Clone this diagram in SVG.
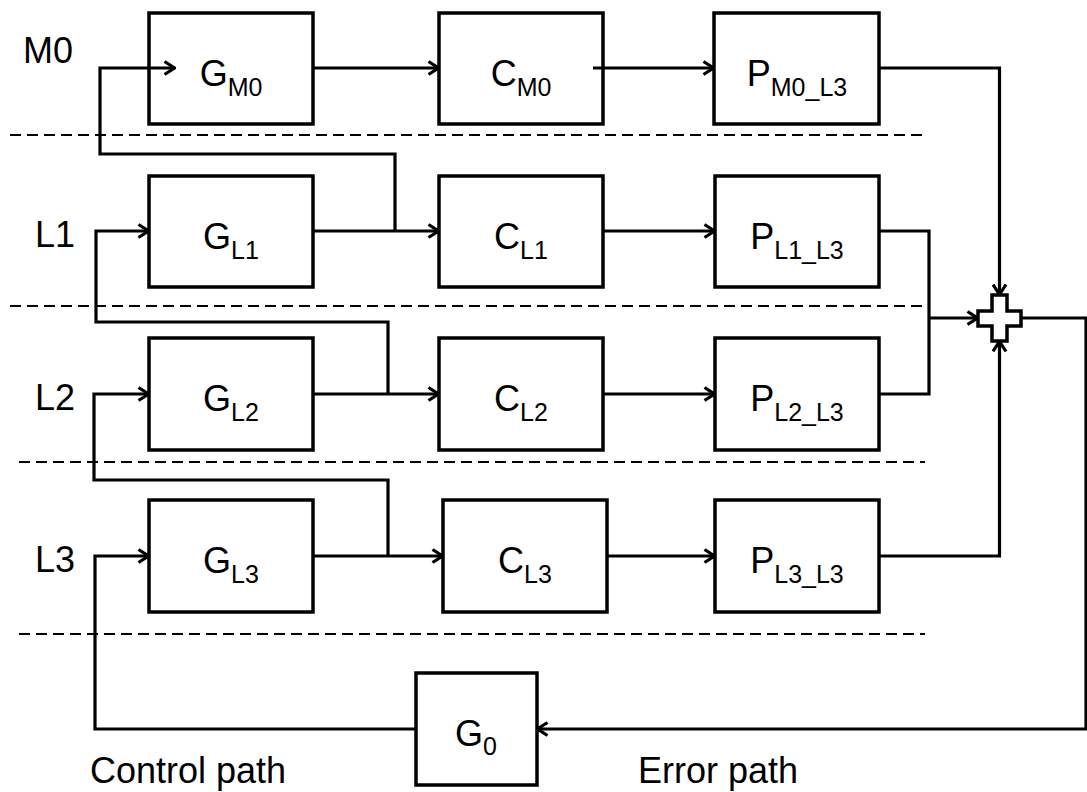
<svg xmlns="http://www.w3.org/2000/svg" width="1087" height="792" viewBox="0 0 1087 792">
<defs>
<marker id="arr" viewBox="0 0 13 16" refX="12" refY="8" markerWidth="13" markerHeight="16" markerUnits="userSpaceOnUse" orient="auto">
<path d="M1.5,1.5 L11.5,8 L1.5,14.5" fill="none" stroke="#000" stroke-width="3.2" stroke-linejoin="miter"/>
</marker>
</defs>
<style>
.box{fill:#fff;stroke:#000;stroke-width:3.5}
.ln{fill:none;stroke:#000;stroke-width:3.2}
.ar{fill:none;stroke:#000;stroke-width:3.2;marker-end:url(#arr)}
.dash{fill:none;stroke:#000;stroke-width:2;stroke-dasharray:11 6}
.lbl{font-family:"Liberation Sans",Arial,sans-serif;font-size:36px;fill:#000}
.nl{font-family:"Liberation Sans",Arial,sans-serif;font-size:36px;fill:#000;text-anchor:middle}
.sub{font-size:25px}
</style>
<rect width="1087" height="792" fill="#fff"/>
<g id="separators">
<line class="dash" x1="10" y1="135" x2="925" y2="135"/>
<line class="dash" x1="10" y1="306" x2="925" y2="306"/>
<line class="dash" x1="19" y1="462" x2="925" y2="462"/>
<line class="dash" x1="19" y1="634" x2="925" y2="634"/>
</g>
<g id="labels">
<text class="lbl" x="23" y="63">M0</text>
<text class="lbl" x="35" y="247">L1</text>
<text class="lbl" x="35" y="410">L2</text>
<text class="lbl" x="35" y="572">L3</text>
<text class="lbl" x="90" y="783">Control path</text>
<text class="lbl" x="638" y="783">Error path</text>
</g>
<g id="G_M0"><rect class="box" x="149" y="13" width="164" height="111"/><text class="nl" x="231" y="86">G<tspan class="sub" dy="10">M0</tspan></text></g>
<g id="C_M0"><rect class="box" x="439" y="13" width="164" height="111"/><text class="nl" x="521" y="86">C<tspan class="sub" dy="10">M0</tspan></text></g>
<g id="P_M0_L3"><rect class="box" x="714" y="13" width="165" height="111"/><text class="nl" x="797" y="86">P<tspan class="sub" dy="10">M0_L3</tspan></text></g>
<g id="G_L1"><rect class="box" x="149" y="176" width="164" height="111"/><text class="nl" x="231" y="249">G<tspan class="sub" dy="10">L1</tspan></text></g>
<g id="C_L1"><rect class="box" x="439" y="176" width="164" height="111"/><text class="nl" x="521" y="249">C<tspan class="sub" dy="10">L1</tspan></text></g>
<g id="P_L1_L3"><rect class="box" x="715" y="176" width="164" height="111"/><text class="nl" x="797" y="249">P<tspan class="sub" dy="10">L1_L3</tspan></text></g>
<g id="G_L2"><rect class="box" x="149" y="338" width="164" height="112"/><text class="nl" x="231" y="411">G<tspan class="sub" dy="10">L2</tspan></text></g>
<g id="C_L2"><rect class="box" x="439" y="338" width="164" height="112"/><text class="nl" x="521" y="411">C<tspan class="sub" dy="10">L2</tspan></text></g>
<g id="P_L2_L3"><rect class="box" x="715" y="338" width="164" height="112"/><text class="nl" x="797" y="411">P<tspan class="sub" dy="10">L2_L3</tspan></text></g>
<g id="G_L3"><rect class="box" x="149" y="500" width="164" height="112"/><text class="nl" x="231" y="573">G<tspan class="sub" dy="10">L3</tspan></text></g>
<g id="C_L3"><rect class="box" x="443" y="500" width="164" height="112"/><text class="nl" x="525" y="573">C<tspan class="sub" dy="10">L3</tspan></text></g>
<g id="P_L3_L3"><rect class="box" x="715" y="500" width="164" height="112"/><text class="nl" x="797" y="573">P<tspan class="sub" dy="10">L3_L3</tspan></text></g>
<g id="G0"><rect class="box" x="416" y="673" width="121" height="112"/><text class="nl" x="476" y="746">G<tspan class="sub" dy="9">0</tspan></text></g>
<g id="connectors">
<path class="ar" d="M395,231 V154 H100 V68 H175"/>
<path class="ar" d="M313,68 H439"/>
<path class="ar" d="M593,68 H714"/>
<path class="ar" d="M879,68 H999.5 V295"/>
<path class="ar" d="M388,394 V322 H96 V231 H149"/>
<path class="ar" d="M313,231 H439"/>
<path class="ar" d="M603,231 H715"/>
<path class="ln" d="M879,231 H929 V394 H879"/>
<path class="ar" d="M929,318 H978"/>
<path class="ar" d="M388,556 V480 H94 V394 H149"/>
<path class="ar" d="M313,394 H439"/>
<path class="ar" d="M603,394 H715"/>
<path class="ar" d="M313,556 H443"/>
<path class="ar" d="M607,556 H715"/>
<path class="ar" d="M879,556 H999.5 V341"/>
<path class="ar" d="M1021,318 H1086 V729 H537"/>
<path class="ar" d="M416,729 H95 V556 H149"/>
</g>
<g id="sum"><polygon class="box" points="992,295 1007,295 1007,311 1021,311 1021,326 1007,326 1007,341 992,341 992,326 978,326 978,311 992,311"/></g>
</svg>
